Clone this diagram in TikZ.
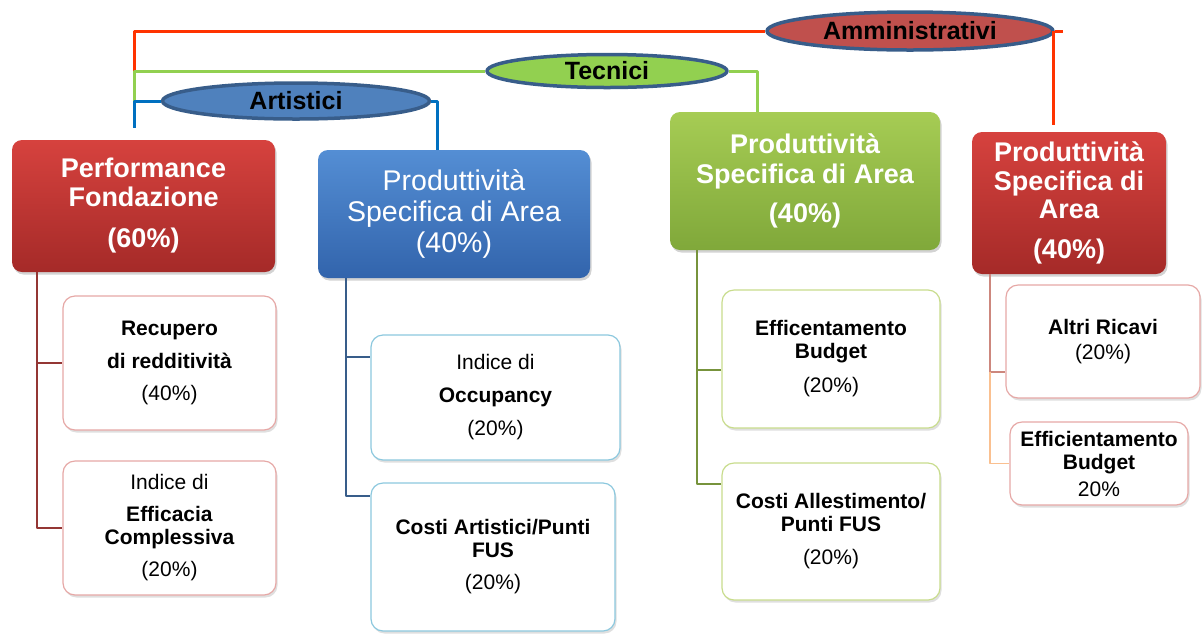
\documentclass[tikz,border=0pt]{standalone}
\usepackage{fontspec}
\setmainfont{Liberation Sans}
\usetikzlibrary{shapes.geometric,shadows}
\definecolor{lineRed}{RGB}{255,51,0}
\definecolor{lineGreen}{RGB}{146,208,80}
\definecolor{lineBlue}{RGB}{0,112,192}
\definecolor{ellRim}{RGB}{56,93,138}
\definecolor{ammFill}{RGB}{192,80,77}
\definecolor{tecFill}{RGB}{146,208,80}
\definecolor{artFill}{RGB}{79,129,189}
\definecolor{redTop}{RGB}{214,66,62}
\definecolor{redBot}{RGB}{165,42,40}
\definecolor{blueTop}{RGB}{84,142,212}
\definecolor{blueBot}{RGB}{50,100,172}
\definecolor{greenTop}{RGB}{166,204,84}
\definecolor{greenBot}{RGB}{128,168,58}
\definecolor{rimRed}{RGB}{230,168,166}
\definecolor{rimBlue}{RGB}{140,200,222}
\definecolor{rimGreen}{RGB}{200,220,140}
\definecolor{linkRed}{RGB}{148,54,52}
\definecolor{linkBlue}{RGB}{56,93,138}
\definecolor{linkGreen}{RGB}{119,147,60}
\definecolor{linkRose}{RGB}{205,135,125}
\definecolor{linkPeach}{RGB}{250,192,144}
\begin{document}
\begin{tikzpicture}[x=1pt,y=-1pt,line join=round,
  head/.style={rounded corners=10pt,text=white,align=center,inner sep=0pt,
    drop shadow={shadow xshift=1.5pt,shadow yshift=-2.5pt,opacity=.35}},
  leaf/.style={draw=#1,line width=1.2pt,fill=white,rounded corners=12pt,align=center,
    inner sep=0pt,font=\fontsize{21}{23}\selectfont,
    drop shadow={shadow xshift=1.5pt,shadow yshift=-2.5pt,opacity=.25}},
  group/.style={ellipse,draw=ellRim,line width=3.5pt,fill=#1,inner sep=0pt,
    font=\fontsize{25}{28}\selectfont\bfseries},
  link/.style={line width=2pt,draw=#1}]
\useasboundingbox (0,0) rectangle (1204,633);

% headers
\node[head,minimum width=263pt,minimum height=132pt,top color=redTop,bottom color=redBot,
  font=\fontsize{27}{29}\selectfont\bfseries] (perf) at (143.5,206)
  {Performance\\Fondazione\\[12pt](60\%)};
\node[head,minimum width=272pt,minimum height=128pt,top color=blueTop,bottom color=blueBot,
  font=\fontsize{28.5}{31}\selectfont] (artbox) at (454,214)
  {Produttività\\Specifica di Area\\(40\%)};
\node[head,minimum width=270pt,minimum height=138pt,top color=greenTop,bottom color=greenBot,
  font=\fontsize{27}{30}\selectfont\bfseries] (tecbox) at (805,181)
  {Produttività\\Specifica di Area\\[9pt](40\%)};
\node[head,minimum width=194pt,minimum height=142pt,top color=redTop,bottom color=redBot,
  font=\fontsize{27}{28.5}\selectfont\bfseries] (ammbox) at (1069,203)
  {Produttività\\Specifica di\\Area\\[11pt](40\%)};

% groups
\node[group=ammFill,minimum width=286pt,minimum height=38pt] (amm) at (910,31) {Amministrativi};
\node[group=tecFill,minimum width=240pt,minimum height=33pt] (tec) at (607,71) {Tecnici};
\node[group=artFill,minimum width=267pt,minimum height=36pt] (art) at (296,101) {Artistici};

% leaves
\node[leaf=rimRed,minimum width=213pt,minimum height=134pt] (rec) at (169.5,363)
  {\textbf{Recupero}\\[10pt]\textbf{di redditività}\\[9pt](40\%)};
\node[leaf=rimRed,minimum width=213pt,minimum height=134pt] (eff) at (169.5,528)
  {Indice di\\[9pt]\textbf{Efficacia}\\\textbf{Complessiva}\\[9pt](20\%)};
\node[leaf=rimBlue,minimum width=249pt,minimum height=125pt] (occ) at (495.5,397.5)
  {Indice di\\[10pt]\textbf{Occupancy}\\[10pt](20\%)};
\node[leaf=rimBlue,minimum width=244pt,minimum height=148pt] (cart) at (493,557)
  {\textbf{Costi Artistici/Punti}\\\textbf{FUS}\\[9pt](20\%)};
\node[leaf=rimGreen,minimum width=218pt,minimum height=138pt] (bud) at (831,359)
  {\textbf{Efficentamento}\\\textbf{Budget}\\[11pt](20\%)};
\node[leaf=rimGreen,minimum width=218pt,minimum height=137pt] (call) at (831,531.5)
  {\textbf{Costi Allestimento/}\\\textbf{Punti FUS}\\[10pt](20\%)};
\node[leaf=rimRed,minimum width=194pt,minimum height=113pt] (ric) at (1103,341.5)
  {\textbf{Altri Ricavi}\\[2pt](20\%)};
\node[leaf=rimRed,minimum width=178pt,minimum height=83pt] (ebud) at (1099,463.5)
  {\textbf{Efficientamento}\\\textbf{Budget}\\[4pt]20\%};

% top lines
\coordinate (hub) at ([xshift=-9.5pt,yshift=12pt]perf.north);
\coordinate (rtop) at ([xshift=-16pt,yshift=7pt]ammbox.north);
\draw[link=lineRed,line width=3pt] (hub |- tec.west) |- (amm.west);
\draw[link=lineRed,line width=3pt] (amm.east) -- ++(8pt,0) (amm.east -| rtop) -- (rtop);
\draw[link=lineGreen,line width=3pt] (hub |- art.west) |- (tec.west);
\draw[link=lineGreen,line width=3pt] (tec.east) -| ([xshift=-48pt]tecbox.north);
\draw[link=lineBlue,line width=3pt] (hub) |- (art.west);
\draw[link=lineBlue,line width=3pt] (art.east) -| ([xshift=-17pt]artbox.north);

% leaf links
\draw[link=linkRed] ([xshift=25pt]perf.south west) |- (rec.west);
\draw[link=linkRed] ([xshift=25pt]perf.south west) |- (eff.west);
\draw[link=linkBlue] ([xshift=28pt]artbox.south west) |- ([yshift=-23pt]occ.north west);
\draw[link=linkBlue] ([xshift=28pt]artbox.south west) |- ([yshift=-14pt]cart.north west);
\draw[link=linkGreen] ([xshift=27pt]tecbox.south west) |- ([yshift=-11pt]bud.west);
\draw[link=linkGreen] ([xshift=27pt]tecbox.south west) |- ([yshift=-22pt]call.north west);
\coordinate (rsplit) at ([xshift=18pt]ammbox.south west |- 0,372);
\draw[link=linkRose,line width=1.5pt] ([xshift=18pt]ammbox.south west) -- (rsplit) -- (rsplit -| ric.west);
\draw[link=linkPeach,line width=1.5pt] (rsplit) |- (ebud.west);
\end{tikzpicture}
\end{document}
